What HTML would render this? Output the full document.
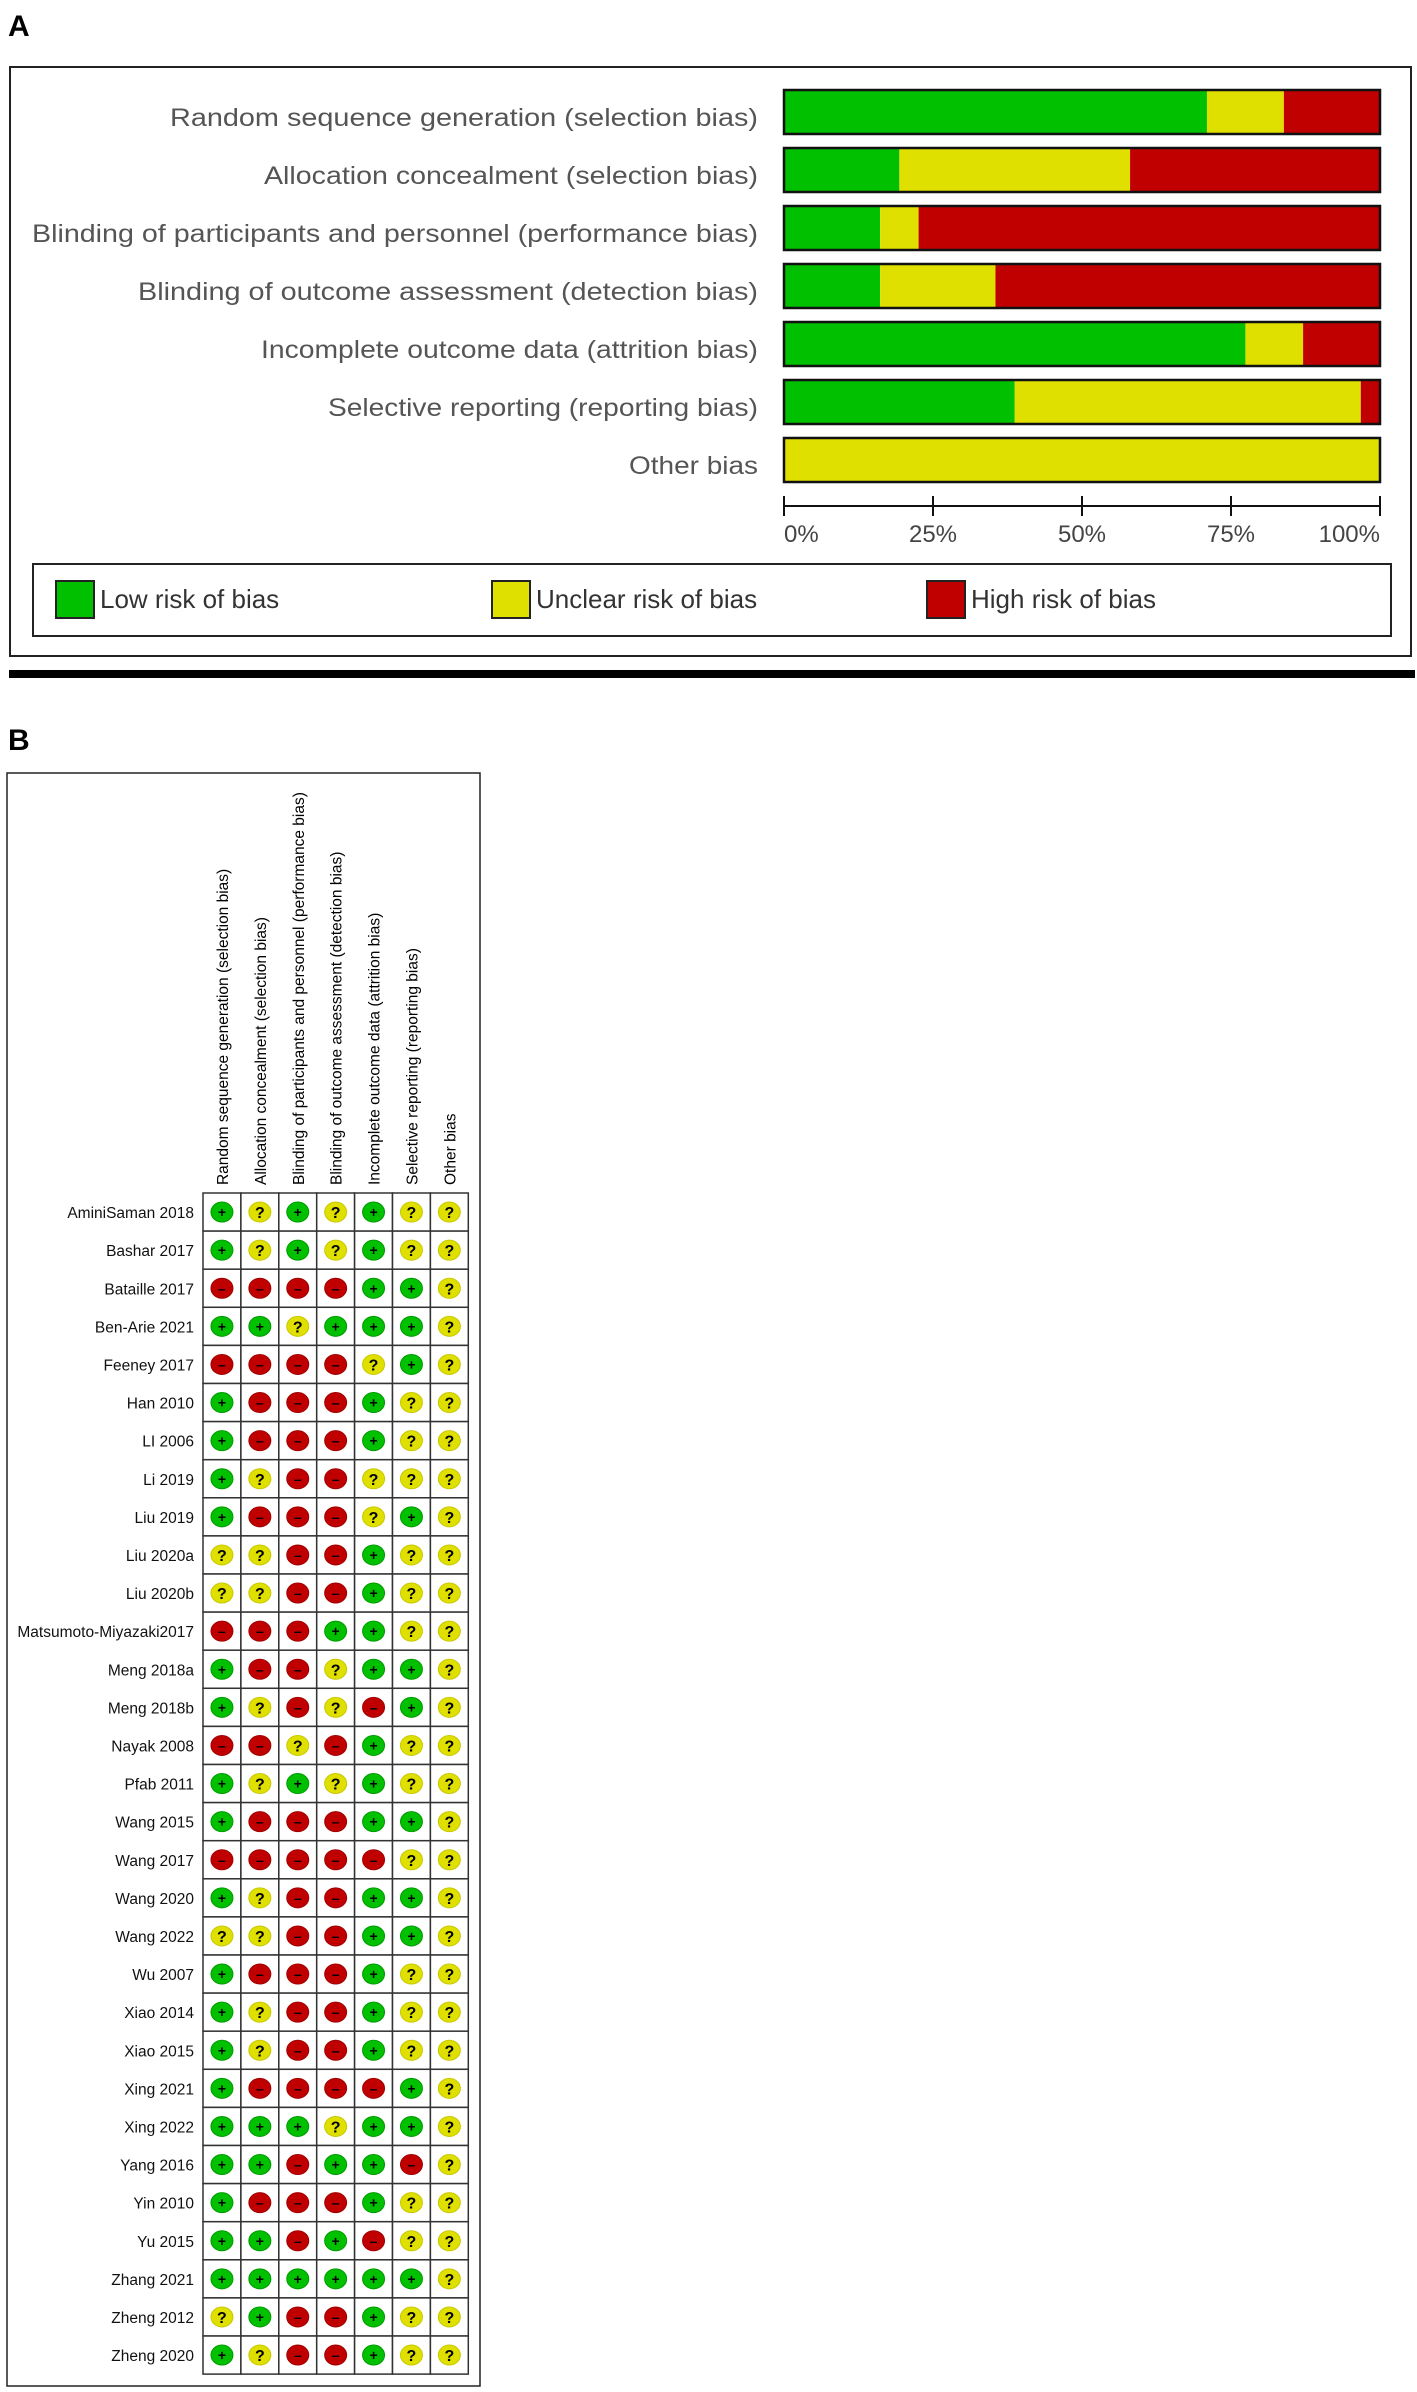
<!DOCTYPE html>
<html><head><meta charset="utf-8"><style>
html,body{margin:0;padding:0;background:#fff;}
svg{display:block;font-family:"Liberation Sans",Arial,sans-serif;}
</style></head><body>
<svg id="chart" width="1417" height="2392" viewBox="0 0 1417 2392" xmlns="http://www.w3.org/2000/svg">
<text x="8" y="36" font-size="30" font-weight="bold" fill="#000">A</text>
<rect x="10" y="67" width="1401" height="589" fill="none" stroke="#222" stroke-width="2"/>
<g id="summary"></g>
<rect x="33" y="564" width="1358" height="72" fill="none" stroke="#222" stroke-width="2"/>
<rect x="9" y="670" width="1406" height="8" fill="#000"/>
<text x="8" y="750" font-size="30" font-weight="bold" fill="#000">B</text>
<rect x="7" y="773" width="473" height="1613" fill="none" stroke="#222" stroke-width="1.5"/>
<g id="grid"></g>
</svg>
<script>
var domains = ["Random sequence generation (selection bias)","Allocation concealment (selection bias)","Blinding of participants and personnel (performance bias)","Blinding of outcome assessment (detection bias)","Incomplete outcome data (attrition bias)","Selective reporting (reporting bias)","Other bias"];
var studies = ["AminiSaman 2018","Bashar 2017","Bataille 2017","Ben-Arie 2021","Feeney 2017","Han 2010","LI  2006","Li 2019","Liu 2019","Liu 2020a","Liu 2020b","Matsumoto-Miyazaki2017","Meng 2018a","Meng  2018b","Nayak 2008","Pfab 2011","Wang 2015","Wang 2017","Wang 2020","Wang 2022","Wu 2007","Xiao 2014","Xiao 2015","Xing 2021","Xing 2022","Yang 2016","Yin 2010","Yu 2015","Zhang 2021","Zheng 2012","Zheng 2020"];
// L = low, U = unclear, H = high ; one string per study, one char per domain
var judgements = ["LULULUU","LULULUU","HHHHLLU","LLULLLU","HHHHULU","LHHHLUU","LHHHLUU","LUHHUUU","LHHHULU","UUHHLUU","UUHHLUU","HHHLLUU","LHHULLU","LUHUHLU","HHUHLUU","LULULUU","LHHHLLU","HHHHHUU","LUHHLLU","UUHHLLU","LHHHLUU","LUHHLUU","LUHHLUU","LHHHHLU","LLLULLU","LLHLLHU","LHHHLUU","LLHLHUU","LLLLLLU","ULHHLUU","LUHHLUU"];
var tickLabels = ["0%","25%","50%","75%","100%"];
var tickValues = [0,25,50,75,100];
var legendLabels = ["Low risk of bias","Unclear risk of bias","High risk of bias"];

function draw(){
var NS="http://www.w3.org/2000/svg";
var COL={L:"#00c000",U:"#e0e000",H:"#c00000"};
var RIM={L:"#009a00",U:"#c8c800",H:"#a00000"};
var SYM={L:"+",U:"?",H:"\u2013"};
var KEYS=["L","U","H"];
function mk(tag,attrs,parent){var e=document.createElementNS(NS,tag);for(var k in attrs){e.setAttribute(k,String(attrs[k]));}parent.appendChild(e);return e;}

var S=document.getElementById("summary");
var bx0=784,bx1=1380;
function xs(p){return bx0+(bx1-bx0)*p/100;}
function rowY(i){return 90+58*i;}
var labelW=[588,494,726,620,497,430,129];
var i,r,c,k,t,n=judgements.length;
for(i=0;i<domains.length;i++){
  var cnt={L:0,U:0,H:0};
  for(r=0;r<n;r++){cnt[judgements[r].charAt(i)]++;}
  t=mk("text",{x:758,y:rowY(i)+36,"font-size":25,fill:"#555","text-anchor":"end",textLength:labelW[i],lengthAdjust:"spacingAndGlyphs"},S);
  
  
  t.textContent=domains[i];
  var acc=0;
  for(var q=0;q<3;q++){
    k=KEYS[q];
    var p=cnt[k]/n*100;
    if(p>0){
      var seg=mk("rect",{x:xs(acc),y:rowY(i),width:xs(acc+p)-xs(acc),height:44,fill:COL[k]},S);
      
      
    }
    acc+=p;
  }
  var o=mk("rect",{x:bx0,y:rowY(i),width:bx1-bx0,height:44,fill:"none",stroke:"#111","stroke-width":2.5},S);
  
  
}
var ax=mk("line",{x1:bx0,y1:506,x2:bx1,y2:506,stroke:"#111","stroke-width":2},S);


for(i=0;i<tickValues.length;i++){
  var v=tickValues[i];
  var tk=mk("line",{x1:xs(v),y1:496,x2:xs(v),y2:516,stroke:"#111","stroke-width":2},S);
  
  
  var anchor=i==0?"start":(i==tickValues.length-1?"end":"middle");
  var tl=mk("text",{x:xs(v),y:542,"font-size":24,fill:"#444","text-anchor":anchor},S);
  
  
  tl.textContent=tickLabels[i];
}
var legX=[56,492,927];
for(i=0;i<3;i++){
  k=KEYS[i];
  var sq=mk("rect",{x:legX[i],y:581,width:38,height:37,fill:COL[k],stroke:"#222","stroke-width":2},S);
  
  
  var lt=mk("text",{x:legX[i]+44,y:608,"font-size":26,fill:"#333"},S);
  
  
  lt.textContent=legendLabels[i];
}

var G=document.getElementById("grid");
var gx=203,gy=1193,cw=37.9,ch=38.1;
for(i=0;i<domains.length;i++){
  var hx=gx+cw*(i+0.5)+6;
  var h=mk("text",{x:hx,y:1185,"font-size":15.5,fill:"#000",transform:"rotate(-90 "+hx+" 1185)"},G);
  
  
  h.textContent=domains[i];
}
for(r=0;r<studies.length;r++){
  var sl=mk("text",{x:194,y:gy+ch*(r+0.5)+6,"font-size":15.5,fill:"#111","text-anchor":"end"},G);
  
  
  sl.textContent=studies[r];
  for(c=0;c<domains.length;c++){
    k=judgements[r].charAt(c);
    var cell=mk("rect",{x:gx+cw*c,y:gy+ch*r,width:cw,height:ch,fill:"#fff",stroke:"#333","stroke-width":1.5},G);
    
    
    var ccx=gx+cw*(c+0.5),ccy=gy+ch*(r+0.5);
    var e=mk("ellipse",{cx:ccx,cy:ccy,rx:11,ry:10,fill:COL[k],stroke:RIM[k],"stroke-width":1},G);
    
    
    var sy=mk("text",{x:ccx,y:ccy+(k=="U"?6:5),"font-size":(k=="U"?16:14),"font-weight":"bold",fill:"#000","text-anchor":"middle"},G);
    
    
    sy.textContent=SYM[k];
  }
}
}
try{draw();}catch(err){var m=document.createElement("pre");m.textContent=String(err);m.style.position="absolute";m.style.top="0";m.style.right="0";m.style.fontSize="10px";document.body.appendChild(m);}
</script>
</body></html>
